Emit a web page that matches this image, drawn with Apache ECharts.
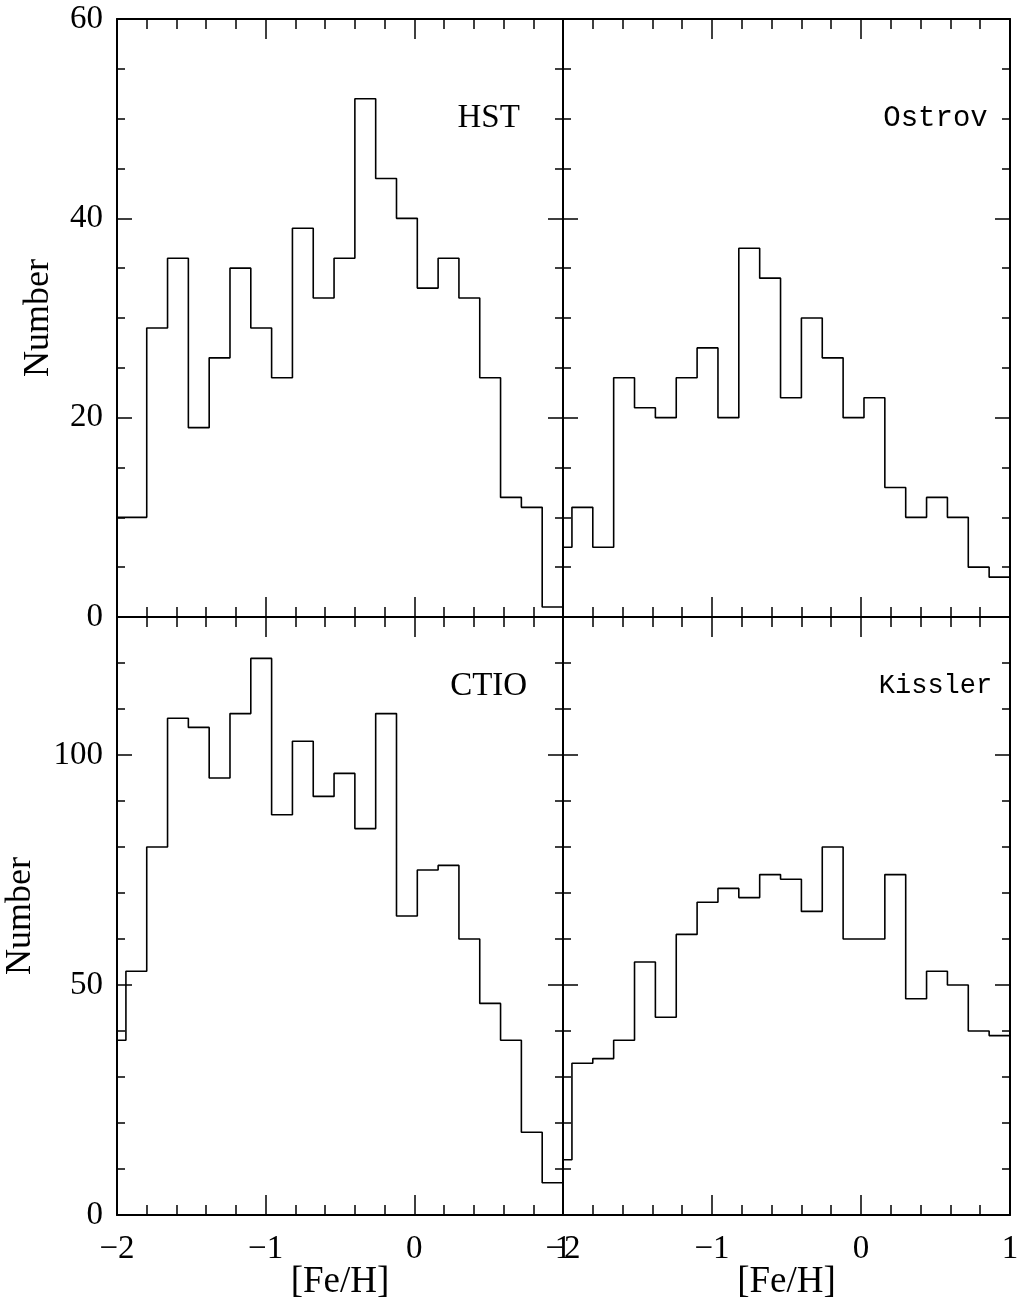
<!DOCTYPE html>
<html>
<head>
<meta charset="utf-8">
<script src="https://cdn.jsdelivr.net/npm/echarts@6/dist/echarts.min.js"></script>
<style>
  html, body { margin: 0; padding: 0; background: #fff; }
  #chart { width: 1019px; height: 1306px; }
</style>
</head>
<body>
<div id="chart"></div>
<script>
// Histogram bin edges in [Fe/H] (0.14 dex bins; the first bin starts below the axis minimum)
const binEdges = [-2.08, -1.94, -1.80, -1.66, -1.52, -1.38, -1.24, -1.10, -0.96, -0.82, -0.68,
                  -0.54, -0.40, -0.26, -0.12, 0.02, 0.16, 0.30, 0.44, 0.58, 0.72, 0.86, 1.00];

// Counts per bin for each sample
const hstCounts     = [10, 10, 29, 36, 19, 26, 35, 29, 24, 39, 32, 36, 52, 44, 40, 33, 36, 32, 24, 12, 11, 1];
const ostrovCounts  = [7, 11, 7, 24, 21, 20, 24, 27, 20, 37, 34, 22, 30, 26, 20, 22, 13, 10, 12, 10, 5, 4];
const ctioCounts    = [38, 53, 80, 108, 106, 95, 109, 121, 87, 103, 91, 96, 84, 109, 65, 75, 76, 60, 46, 38, 18, 7];
const kisslerCounts = [12, 33, 34, 38, 55, 43, 61, 68, 71, 69, 74, 73, 66, 80, 60, 60, 74, 47, 53, 50, 40, 39];

// Panel names and where their name sits in data units
const panelNames = ['HST', 'Ostrov', 'CTIO', 'Kissler'];
const nameAnchorX = 0.5;
const nameAnchorY = [50, 50, 115, 115];

// Axis ranges and tick steps
const xRange = [-2, 1];
const xMajorStep = 1;
const yRangeTop = [0, 60];
const yRangeBottom = [0, 130];
const yStepsTop = { major: 20, minor: 5 };
const yStepsBottom = { major: 50, minor: 10 };

const SERIF = 'Liberation Serif';
const MONO = 'Liberation Mono';
const INK = '#000';

const panels = [
  { counts: hstCounts,     yRange: yRangeTop,    steps: yStepsTop,    left: true,  bottom: false, font: '33px "' + SERIF + '"' },
  { counts: ostrovCounts,  yRange: yRangeTop,    steps: yStepsTop,    left: false, bottom: false, font: '29px "' + MONO + '"' },
  { counts: ctioCounts,    yRange: yRangeBottom, steps: yStepsBottom, left: true,  bottom: true,  font: '33px "' + SERIF + '"' },
  { counts: kisslerCounts, yRange: yRangeBottom, steps: yStepsBottom, left: false, bottom: true,  font: '27px "' + MONO + '"' }
];

const grids = [
  { left: 117, top: 19,  width: 446, height: 598, outerBoundsMode: 'none', containLabel: false },
  { left: 563, top: 19,  width: 447, height: 598, outerBoundsMode: 'none', containLabel: false },
  { left: 117, top: 617, width: 446, height: 598, outerBoundsMode: 'none', containLabel: false },
  { left: 563, top: 617, width: 447, height: 598, outerBoundsMode: 'none', containLabel: false }
];

const minusFmt = v => String(v).replace('-', '\u2212');

const xAxes = [], yAxes = [], series = [];

panels.forEach((p, g) => {
  ['bottom', 'top'].forEach(pos => {
    const showLabel = pos === 'bottom' && p.bottom;
    xAxes.push({
      type: 'value', gridIndex: g, position: pos,
      min: xRange[0], max: xRange[1], interval: xMajorStep,
      axisLine: { show: true, onZero: false, lineStyle: { color: INK, width: 2 } },
      axisTick: { show: true, inside: true, length: 20, lineStyle: { color: INK, width: 1.5 } },
      minorTick: { show: true, splitNumber: 5, length: 10, lineStyle: { color: INK, width: 1.5 } },
      splitLine: { show: false }, minorSplitLine: { show: false },
      axisLabel: { show: showLabel, margin: 18, formatter: minusFmt,
                   fontFamily: SERIF, fontSize: 33, color: INK },
      name: showLabel ? '[Fe/H]' : '',
      nameLocation: 'middle', nameGap: 49, nameMoveOverlap: false,
      nameTextStyle: { fontFamily: SERIF, fontSize: 37, color: INK }
    });
  });
  ['left', 'right'].forEach(pos => {
    const showLabel = pos === 'left' && p.left;
    // major ticks, labels and frame line
    yAxes.push({
      type: 'value', gridIndex: g, position: pos,
      min: p.yRange[0], max: p.yRange[1], interval: p.steps.major,
      axisLine: { show: true, onZero: false, lineStyle: { color: INK, width: 2 } },
      axisTick: { show: true, inside: true, length: 15, lineStyle: { color: INK, width: 1.5 } },
      splitLine: { show: false },
      axisLabel: {
        show: showLabel, margin: 14, fontFamily: SERIF, fontSize: 33, color: INK,
        formatter: v => (v % p.steps.major === 0 ? minusFmt(v) : '')
      },
      name: showLabel ? 'Number' : '',
      nameLocation: 'middle', nameRotate: 90, nameMoveOverlap: false,
      nameGap: p.bottom ? 78 : 60,
      nameTextStyle: { fontFamily: SERIF, fontSize: 36, color: INK }
    });
    // minor ticks
    yAxes.push({
      type: 'value', gridIndex: g, position: pos,
      min: p.yRange[0], max: p.yRange[1], interval: p.steps.minor,
      axisLine: { show: false, onZero: false },
      axisTick: { show: true, inside: true, length: 8, lineStyle: { color: INK, width: 1.5 } },
      splitLine: { show: false },
      axisLabel: { show: false }
    });
  });

  // step outline: one point per bin lower edge, plus the closing right edge
  const data = binEdges.map((e, i) => [e, p.counts[Math.min(i, p.counts.length - 1)]]);
  series.push({
    type: 'line', xAxisIndex: 2 * g, yAxisIndex: 4 * g,
    step: 'end', data: data, symbol: 'none', clip: true,
    lineStyle: { color: INK, width: 1.6 },
    silent: true, animation: false
  });
});

const chart = echarts.init(document.getElementById('chart'), null, { renderer: 'canvas' });
chart.setOption({
  backgroundColor: '#fff',
  animation: false,
  grid: grids,
  xAxis: xAxes,
  yAxis: yAxes,
  series: series
});

// panel names, placed through each panel's own scales
const nameGraphics = panels.map((p, g) => {
  const pt = chart.convertToPixel({ xAxisIndex: 2 * g, yAxisIndex: 4 * g }, [nameAnchorX, nameAnchorY[g]]);
  return {
    type: 'text', x: pt[0], y: pt[1],
    style: { text: panelNames[g], fill: INK, font: p.font, align: 'center', verticalAlign: 'middle' }
  };
});
chart.setOption({ graphic: nameGraphics });
</script>
</body>
</html>
